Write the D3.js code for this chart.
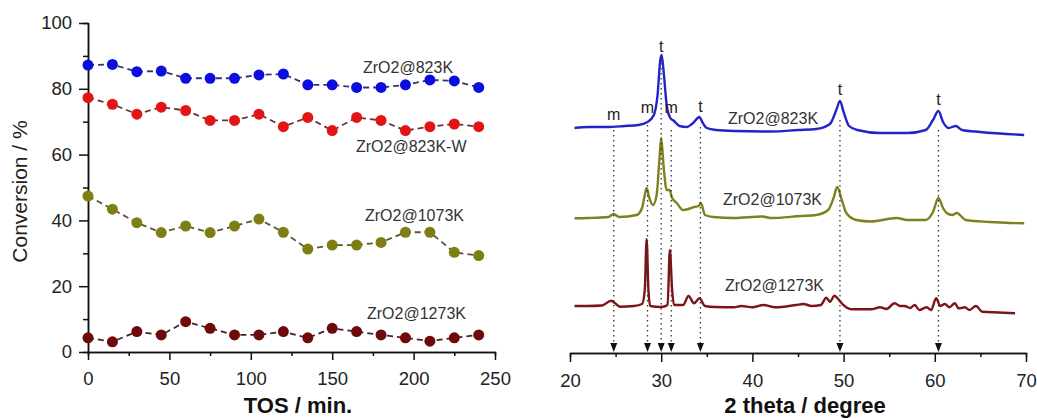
<!DOCTYPE html>
<html>
<head>
<meta charset="utf-8">
<script src="https://cdn.jsdelivr.net/npm/d3@7"></script>
<style>
  body { margin: 0; background: #fff; }
  svg { display: block; font-family: 'Liberation Sans', Arial, sans-serif; }
  .tick text { font-size: 18.5px; fill: #222; }
  .domain, .tick line { stroke: #111; stroke-width: 1.5; }
</style>
</head>
<body>
<div class="chart"></div>
<script>
// ---- conversion vs time on stream (left panel) ----
const tos = [0, 15, 30, 45, 60, 75, 90, 105, 120, 135, 150, 165, 180, 195, 210, 225, 240];
const conv823 = [87.2, 87.4, 85.2, 85.4, 83.2, 83.2, 83.2, 84.2, 84.5, 81.2, 81.2, 80.4, 80.4, 81.2, 82.7, 82.4, 80.4];
const conv823W = [77.3, 75.3, 72.3, 74.4, 73.4, 70.4, 70.4, 72.3, 68.5, 71.3, 67.3, 71.3, 70.4, 67.3, 68.5, 69.3, 68.5];
const conv1073 = [47.4, 43.4, 39.3, 36.3, 38.3, 36.3, 38.3, 40.4, 36.4, 31.3, 32.5, 32.5, 33.3, 36.4, 36.4, 30.3, 29.3];
const conv1273 = [4.3, 3.1, 6.2, 5.2, 9.2, 7.2, 5.2, 5.2, 6.2, 4.3, 7.2, 6.2, 5.2, 4.3, 3.3, 4.3, 5.2];
const convNames = ['ZrO2@823K', 'ZrO2@823K-W', 'ZrO2@1073K', 'ZrO2@1273K'];
const tosTicks = [0, 50, 100, 150, 200, 250];
const convTicks = [0, 20, 40, 60, 80, 100];

// ---- XRD patterns (right panel), [2theta, intensity a.u.] ----
const xrd823 = [
  [20.5, 225], [22, 226], [24, 226], [26, 227], [27.5, 228], [28.5, 231], [29.2, 238], [29.6, 258],
  [29.9, 293], [30.05, 298], [30.3, 278], [30.6, 248], [31.0, 235], [31.4, 232], [32.0, 227],
  [32.8, 226], [33.5, 230], [34.2, 236], [34.5, 231], [35.0, 225], [36, 223], [38, 222], [42, 221.5],
  [45, 223], [47, 224], [48.5, 229], [49.2, 243], [49.6, 252], [50.0, 241], [50.6, 227], [51.5, 223],
  [54, 220], [57, 220], [59, 223], [59.8, 233], [60.4, 242], [60.9, 231], [61.5, 225], [62.3, 227],
  [63, 223], [65, 221], [69.8, 218]
];
const xrd1073 = [
  [20.5, 134.7], [22, 135], [24.2, 136], [24.8, 139], [25.4, 136], [27.3, 138], [27.9, 145], [28.2, 158],
  [28.4, 165], [28.7, 155], [29.1, 148], [29.5, 158], [29.8, 193], [30.0, 215], [30.25, 188], [30.6, 163],
  [30.9, 163], [31.2, 155], [31.7, 150], [32.4, 143], [33.0, 144], [33.6, 146], [34.1, 147], [34.35, 150],
  [34.8, 138], [35.7, 136], [38, 135], [41.1, 136.5], [42, 135], [45.3, 137], [47, 138], [48.3, 143],
  [48.9, 155], [49.3, 166], [49.8, 153], [50.3, 140], [51.4, 133], [53, 131.5], [55.8, 135], [57, 133],
  [59, 133], [59.8, 141], [60.4, 155], [60.9, 145], [61.3, 140], [61.9, 138], [62.4, 140], [63.4, 133],
  [66, 131], [69.8, 129.7]
];
const xrd1273 = [
  [20.5, 47], [22, 47], [23.5, 47.5], [24.5, 52.3], [25.5, 46.3], [27.0, 47], [27.9, 49], [28.2, 63],
  [28.4, 113.7], [28.6, 63], [28.8, 47], [30.0, 46], [30.7, 48], [30.95, 103], [31.2, 63], [31.4, 48],
  [32.4, 48], [33.0, 57], [33.6, 49.7], [34.2, 54.7], [34.8, 47], [36, 46], [38, 45.7], [38.8, 47],
  [40, 45.7], [41.2, 48], [42.5, 45.7], [44.8, 48], [45.6, 49], [46.5, 47], [47.5, 48], [48.1, 55.3],
  [48.5, 51.3], [49.0, 57.3], [49.4, 54], [49.9, 48.7], [51, 43.7], [53, 43.7], [54.0, 45.7], [54.7, 44],
  [55.6, 49.7], [56.2, 47], [56.7, 47], [57.3, 45], [57.8, 48], [58.3, 43], [59.1, 45.7], [59.6, 43],
  [60.15, 54.7], [60.6, 47], [61.1, 49], [61.6, 45.7], [62.2, 49.7], [62.6, 44.7], [63.3, 45.7],
  [63.8, 43], [64.5, 47], [65.2, 41.3], [67, 40.5], [68.8, 39.7]
];
// reflections: position, phase, intensity level of the letter and top of the guide line
const reflPos = [24.8, 28.5, 30.0, 31.1, 34.3, 49.6, 60.4];
const reflPhase = ['m', 'm', 't', 'm', 't', 't', 't'];
const reflLabelLevel = [233.5, 240.5, 301, 240.5, 241.5, 258, 248];
const reflLineTop = [223, 228, 290, 223, 226, 233, 223];
const thetaTicks = [20, 30, 40, 50, 60, 70];
const thetaMinor = [25, 35, 45, 55, 65];

const W = 1037, H = 419;
const svg = d3.select('.chart').append('svg').attr('width', W).attr('height', H);
svg.append('rect').attr('width', W).attr('height', H).attr('fill', '#fff');

// ===== left panel =====
const x = d3.scaleLinear().domain([0, 250]).range([88, 495]);
const y = d3.scaleLinear().domain([0, 100]).range([352, 23]);

svg.append('g').attr('transform', `translate(0,${y(0)})`)
  .call(d3.axisBottom(x).tickValues(d3.range(25, 250, 50)).tickSize(4).tickFormat(''));
svg.append('g').attr('transform', `translate(0,${y(0)})`)
  .call(d3.axisBottom(x).tickValues(tosTicks).tickSize(8).tickPadding(8).tickSizeOuter(0))
  .selectAll('text').attr('dy', '0.9em');
svg.append('g').attr('transform', `translate(${x(0)},0)`)
  .call(d3.axisLeft(y).tickValues(d3.range(10, 100, 20)).tickSize(5).tickFormat(''));
svg.append('g').attr('transform', `translate(${x(0)},0)`)
  .call(d3.axisLeft(y).tickValues(convTicks).tickSize(9).tickPadding(7).tickSizeOuter(0));

const convSeries = [conv823, conv823W, conv1073, conv1273];
const dotColors = ['#0c0ce0', '#e41414', '#7e7e14', '#6e0a0c'];
const dashColors = ['#34346e', '#6a3434', '#5a5a30', '#4a2222'];
const line = d3.line().x((d, i) => x(tos[i])).y(d => y(d));

convSeries.forEach((s, k) => {
  svg.append('path').datum(s)
    .attr('d', line)
    .attr('fill', 'none')
    .attr('stroke', dashColors[k])
    .attr('stroke-width', 1.8)
    .attr('stroke-dasharray', '6,4');
  svg.append('g').selectAll('circle').data(s).join('circle')
    .attr('cx', (d, i) => x(tos[i]))
    .attr('cy', d => y(d))
    .attr('r', 5.5)
    .attr('fill', dotColors[k]);
});

const convLabelPos = [[363, 73], [356, 152], [365, 221], [367, 319]];
convNames.forEach((n, k) => {
  svg.append('text').attr('x', convLabelPos[k][0]).attr('y', convLabelPos[k][1])
    .attr('font-size', 16).attr('fill', '#333').text(n);
});

svg.append('text')
  .attr('transform', `translate(27,${(y(0) + y(100)) / 2 + 4}) rotate(-90)`)
  .attr('text-anchor', 'middle').attr('font-size', 21).attr('fill', '#222')
  .text('Conversion / %');
svg.append('text').attr('x', 298).attr('y', 413)
  .attr('text-anchor', 'middle').attr('font-size', 22).attr('font-weight', 'bold').attr('fill', '#111')
  .text('TOS / min.');

// ===== right panel =====
const x2 = d3.scaleLinear().domain([20, 70]).range([570, 1026]);
const y2 = d3.scaleLinear().domain([0, 330]).range([353, 23]);

svg.append('g').attr('transform', `translate(0,${y2(0)})`)
  .call(d3.axisBottom(x2).tickValues(thetaMinor).tickSize(4).tickFormat(''));
svg.append('g').attr('transform', `translate(0,${y2(0)})`)
  .call(d3.axisBottom(x2).tickValues(thetaTicks).tickSize(9).tickPadding(8).tickSizeOuter(0))
  .selectAll('text').attr('dy', '0.9em');

const xrdLine = d3.line().x(d => x2(d[0])).y(d => y2(d[1])).curve(d3.curveMonotoneX);
const xrdSeries = [xrd823, xrd1073, xrd1273];
const xrdColors = ['#2323c8', '#7f801e', '#7c1418'];
xrdSeries.forEach((s, k) => {
  svg.append('path').datum(s).attr('d', xrdLine)
    .attr('fill', 'none').attr('stroke', xrdColors[k])
    .attr('stroke-width', 2.4).attr('stroke-linejoin', 'round');
});

// guide lines, arrows and phase letters
reflPos.forEach((p, i) => {
  svg.append('line')
    .attr('x1', x2(p)).attr('x2', x2(p))
    .attr('y1', y2(reflLineTop[i])).attr('y2', y2(0) - 10)
    .attr('stroke', '#333').attr('stroke-width', 1.3).attr('stroke-dasharray', '1.5,3.5');
  const cx = x2(p), by = y2(0);
  svg.append('path')
    .attr('d', `M${cx - 3.5},${by - 10} L${cx + 3.5},${by - 10} L${cx},${by - 1} Z`)
    .attr('fill', '#111');
  svg.append('text').attr('x', cx).attr('y', y2(reflLabelLevel[i]))
    .attr('text-anchor', 'middle').attr('font-size', 16).attr('fill', '#222')
    .text(reflPhase[i]);
});

const xrdNames = ['ZrO2@823K', 'ZrO2@1073K', 'ZrO2@1273K'];
const xrdLabelPos = [[728, 124], [723, 205], [725, 291]];
xrdNames.forEach((n, k) => {
  svg.append('text').attr('x', xrdLabelPos[k][0]).attr('y', xrdLabelPos[k][1])
    .attr('font-size', 16).attr('fill', '#333').text(n);
});

svg.append('text').attr('x', 805).attr('y', 413)
  .attr('text-anchor', 'middle').attr('font-size', 22).attr('font-weight', 'bold').attr('fill', '#111')
  .text('2 theta / degree');
</script>
</body>
</html>
